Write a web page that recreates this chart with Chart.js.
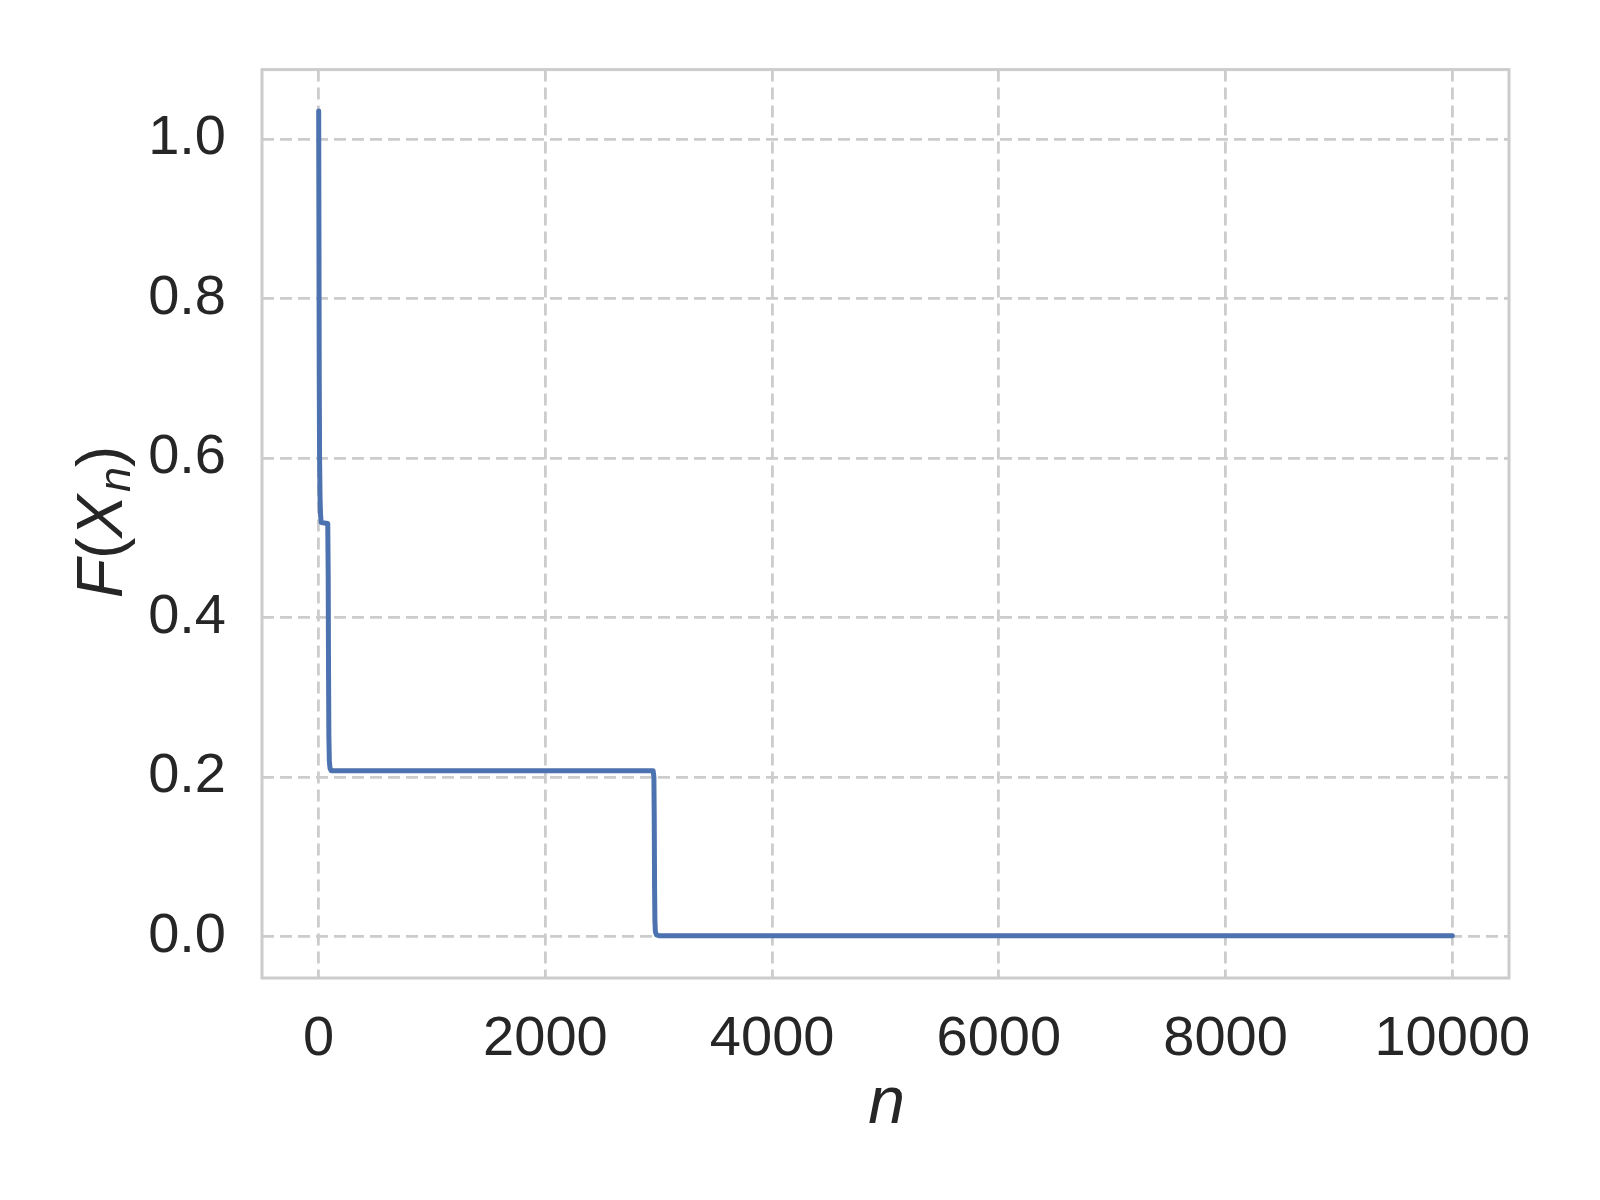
<!DOCTYPE html>
<html>
<head>
<meta charset="utf-8">
<script src="https://cdn.jsdelivr.net/npm/chart.js@4.4.1/dist/chart.umd.min.js"></script>
<style>
  html, body { margin: 0; padding: 0; background: #ffffff; }
  canvas { display: block; }
</style>
</head>
<body>
<canvas id="chart" width="1600" height="1200"></canvas>
<script>
// ---- data ----
const nValues = [0, 2, 5, 8, 12, 16, 22, 80, 84, 87, 90, 94, 100, 110, 2950, 2957, 2960, 2963, 2966, 2970, 2980, 3000, 10000];
const fValues = [1.035, 0.90, 0.70, 0.60, 0.55, 0.53, 0.519, 0.518, 0.45, 0.33, 0.25, 0.22, 0.211, 0.208, 0.208, 0.20, 0.15, 0.06, 0.02, 0.006, 0.002, 0.001, 0.001];
const xTicks = [0, 2000, 4000, 6000, 8000, 10000];
const yTicks = [0.0, 0.2, 0.4, 0.6, 0.8, 1.0];

const colors = {
    line: '#4c72b0',
    grid: '#cccccc',
    text: '#262626'
};
const fontFamily = '"Liberation Sans", Arial, sans-serif';
const tickFont = { family: fontFamily, size: 56 };
const gridDash = [12, 6];

// frame + axis titles (F(X_n) needs a subscript, so drawn by hand)
const framePlugin = {
    id: 'frame',
    afterDraw(chart) {
        const { ctx, chartArea: a } = chart;
        ctx.save();
        ctx.strokeStyle = colors.grid;
        ctx.lineWidth = 3;
        ctx.strokeRect(a.left, a.top, a.right - a.left, a.bottom - a.top);

        ctx.fillStyle = colors.text;
        ctx.textBaseline = 'alphabetic';

        // x title
        ctx.font = 'italic 66px ' + fontFamily;
        ctx.textAlign = 'center';
        ctx.fillText('n', (a.left + a.right) / 2 + 1, 1123);

        // y title, rotated
        const parts = [
            { t: 'F', f: 'italic 64px ' + fontFamily, dy: 0 },
            { t: '(', f: '64px ' + fontFamily, dy: 0 },
            { t: 'X', f: 'italic 64px ' + fontFamily, dy: 0 },
            { t: 'n', f: 'italic 45px ' + fontFamily, dy: 8 },
            { t: ')', f: '64px ' + fontFamily, dy: 0 }
        ];
        let total = 0;
        parts.forEach(p => { ctx.font = p.f; p.w = ctx.measureText(p.t).width + (p.t === 'X' ? 3 : 0); total += p.w; });
        ctx.translate(122, 522);
        ctx.rotate(-Math.PI / 2);
        ctx.textAlign = 'left';
        let x = -total / 2;
        parts.forEach(p => {
            ctx.font = p.f;
            ctx.fillText(p.t, x, p.dy);
            x += p.w;
        });
        ctx.restore();
    }
};

const points = nValues.map((n, i) => ({ x: n, y: fValues[i] }));

new Chart(document.getElementById('chart').getContext('2d'), {
    type: 'scatter',
    data: {
        datasets: [{
            data: points,
            showLine: true,
            borderColor: colors.line,
            borderWidth: 5,
            borderJoinStyle: 'round',
            borderCapStyle: 'round',
            // a "dash" with no gap: solid line, but keeps Chart.js off its fast path
            borderDash: [100000, 0],
            pointRadius: 0,
            tension: 0,
            fill: false
        }]
    },
    options: {
        responsive: false,
        animation: false,
        devicePixelRatio: 1,
        layout: { padding: { top: 67, right: 91, left: 0, bottom: 0 } },
        plugins: {
            legend: { display: false },
            tooltip: { enabled: false }
        },
        scales: {
            x: {
                type: 'linear',
                min: -500,
                max: 10500,
                afterBuildTicks: s => { s.ticks = xTicks.map(v => ({ value: v })); },
                afterFit: s => { s.height = 222; },
                border: { display: false, dash: gridDash },
                grid: { color: colors.grid, lineWidth: 2.8, drawTicks: false },
                ticks: {
                    color: colors.text,
                    font: tickFont,
                    padding: 28,
                    maxRotation: 0,
                    autoSkip: false,
                    callback: v => String(v)
                }
            },
            y: {
                type: 'linear',
                min: -0.052,
                max: 1.087,
                afterBuildTicks: s => { s.ticks = yTicks.map(v => ({ value: v })); },
                afterFit: s => { s.width = 262; },
                border: { display: false, dash: gridDash },
                grid: { color: colors.grid, lineWidth: 2.8, drawTicks: false },
                ticks: {
                    color: colors.text,
                    font: tickFont,
                    padding: 36,
                    autoSkip: false,
                    callback: v => v.toFixed(1)
                }
            }
        }
    },
    plugins: [framePlugin]
});
</script>
</body>
</html>
